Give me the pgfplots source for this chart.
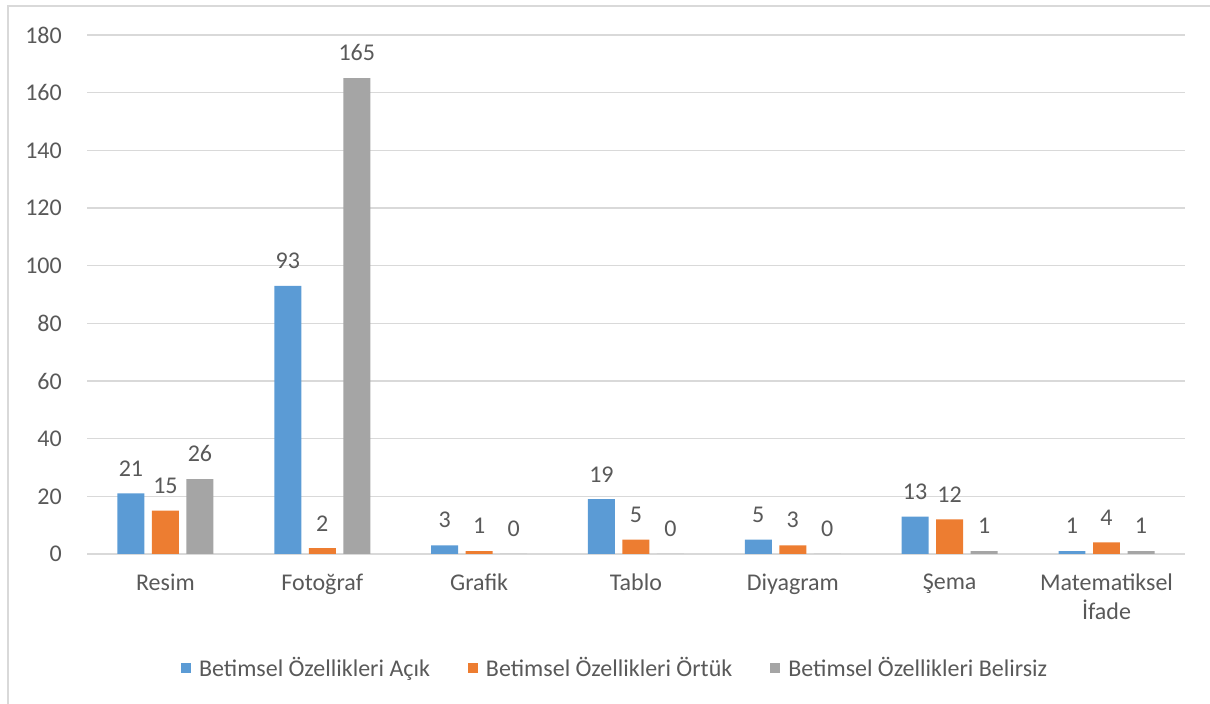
\documentclass[border=0pt]{standalone}
\usepackage{pgfplots}
\pgfplotsset{compat=1.18}
\usepackage{fontspec}
\setmainfont{Carlito}

\definecolor{cblue}{HTML}{5B9BD5}
\definecolor{corange}{HTML}{ED7D31}
\definecolor{cgray}{HTML}{A5A5A5}
\definecolor{gridc}{HTML}{D9D9D9}
\definecolor{tc}{HTML}{595959}

\newcommand{\chartfont}{\fontsize{24}{29}\selectfont}

\begin{document}
\begin{tikzpicture}
\path[use as bounding box] (0pt,0pt) rectangle (1210pt,704pt);
\draw[gridc, line width=1.2pt] (8pt,-10pt) -- (8pt,698pt) -- (1220pt,698pt);
\begin{axis}[
    at={(87pt,150pt)}, anchor=south west,
    width=1098pt, height=519pt, scale only axis,
    ybar, bar width=0.172,
    xmin=-0.5, xmax=6.5, ymin=0, ymax=180,
    xtick={0,...,6},
    xticklabels={Resim,Fotoğraf,Grafik,Tablo,Diyagram,Şema,{Matematiksel\\İfade}},
    ytick={0,20,...,180},
    ymajorgrids, grid style={gridc, line width=1.2pt},
    axis line style={draw=none},
    major tick length=0pt,
    /pgf/number format/assume math mode=true,
    tick label style={font=\chartfont, text=tc},
    xticklabel style={align=center, anchor=north, inner sep=0pt, yshift=-20pt},
    yticklabel style={anchor=east, inner sep=0pt, xshift=-25pt},
    nodes near coords,
    every node near coord/.append style={font=\chartfont, text=tc, inner sep=0pt, anchor=south, yshift=17pt},
    legend columns=3,
    legend image code/.code={\path[#1] (0pt,-5pt) rectangle (10pt,5pt); \path (16pt,0pt);},
    legend style={at={(0.481,-0.2197)}, anchor=center, draw=none, fill=none,
        font=\chartfont, text=tc,
        /tikz/every even column/.append style={column sep=36pt}},
]
\addplot[fill=cblue, draw=none, bar shift=-0.22] coordinates {
    (0,21) (1,93) (2,3) (3,19) (4,5) (5,13) (6,1)};
\addlegendentry{Betimsel Özellikleri Açık}
\addplot[fill=corange, draw=none, bar shift=0] coordinates {
    (0,15) (1,2) (2,1) (3,5) (4,3) (5,12) (6,4)};
\addlegendentry{Betimsel Özellikleri Örtük}
\addplot[fill=cgray, draw=none, bar shift=0.22] coordinates {
    (0,26) (1,165) (2,0) (3,0) (4,0) (5,1) (6,1)};
\addlegendentry{Betimsel Özellikleri Belirsiz}
\end{axis}
\end{tikzpicture}
\end{document}
